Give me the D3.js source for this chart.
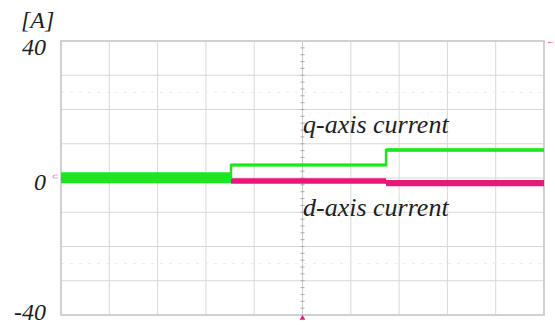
<!DOCTYPE html>
<html>
<head>
<meta charset="utf-8">
<script src="https://cdn.jsdelivr.net/npm/d3@7"></script>
<style>
  body { margin: 0; background: #fff; }
  svg text { font-family: "Liberation Serif", "Times New Roman", serif; font-style: italic; fill: #1e1e1e; }
</style>
</head>
<body>
<div id="chart"></div>
<script>
(function() {
    'use strict';

    // Time in divisions (10 div across), current in A
    var yTicks = [40, 0, -40];
    var yTickLabels = ['40', '0', '-40'];

    // q-axis current: segments [start, end, mean, ripple half-width]
    var qStart = [0, 3.52, 6.73];
    var qEnd = [3.52, 6.73, 10];
    var qMean = [0.1, 3.8, 8.2];
    var qRipple = [1.6, 0.45, 0.5];

    // d-axis current
    var dStart = [0, 3.52, 6.73];
    var dEnd = [3.52, 6.73, 10];
    var dMean = [-0.5, -0.9, -1.5];
    var dRipple = [0.8, 0.8, 0.9];

    var width = 555, height = 325;
    var left = 61, right = 544, top = 41, bottom = 315;

    var x = d3.scaleLinear().domain([0, 10]).range([left, right]);
    var y = d3.scaleLinear().domain([-40, 40]).range([bottom, top]);

    var svg = d3.select('#chart').append('svg')
        .attr('width', width).attr('height', height);

    // Grid
    var g = svg.append('g');
    g.selectAll('.vg').data(d3.range(1, 10)).join('line')
        .attr('x1', function(d) { return x(d); }).attr('x2', function(d) { return x(d); })
        .attr('y1', top).attr('y2', bottom)
        .attr('stroke', '#d8d8d8').attr('stroke-width', 1);
    g.selectAll('.hg').data(d3.range(-30, 40, 10)).join('line')
        .attr('x1', left).attr('x2', right)
        .attr('y1', function(d) { return y(d); }).attr('y2', function(d) { return y(d); })
        .attr('stroke', '#d8d8d8').attr('stroke-width', 1);

    // faint cursor lines
    [25, -25].forEach(function(v) {
        g.append('line')
            .attr('x1', left).attr('x2', right)
            .attr('y1', y(v)).attr('y2', y(v))
            .attr('stroke', '#ebebeb').attr('stroke-width', 1)
            .attr('stroke-dasharray', '3,6');
    });

    // centre axis with minor ticks
    g.append('line')
        .attr('x1', x(5)).attr('x2', x(5)).attr('y1', top).attr('y2', bottom)
        .attr('stroke', '#c8c8c8').attr('stroke-width', 1);
    g.selectAll('.mt').data(d3.range(-40, 40.1, 2)).join('line')
        .attr('x1', x(5) - 2).attr('x2', x(5) + 2)
        .attr('y1', function(d) { return y(d); }).attr('y2', function(d) { return y(d); })
        .attr('stroke', '#aaa').attr('stroke-width', 1);

    // border
    g.append('rect')
        .attr('x', left).attr('y', top)
        .attr('width', right - left).attr('height', bottom - top)
        .attr('fill', 'none').attr('stroke', '#d0d0d0').attr('stroke-width', 2);

    function band(starts, ends, means, ripples) {
        var pts = [];
        for (var i = 0; i < starts.length; i++) {
            pts.push({ t: starts[i], m: means[i], r: ripples[i] });
            pts.push({ t: ends[i], m: means[i], r: ripples[i] });
        }
        return d3.area()
            .x(function(d) { return x(d.t); })
            .y0(function(d) { return y(d.m - d.r); })
            .y1(function(d) { return y(d.m + d.r); })(pts);
    }

    function line(starts, ends, means) {
        var pts = [];
        for (var i = 0; i < starts.length; i++) {
            pts.push([starts[i], means[i]]);
            pts.push([ends[i], means[i]]);
        }
        return d3.line()
            .x(function(d) { return x(d[0]); })
            .y(function(d) { return y(d[1]); })(pts);
    }

    var pink = '#e8177a', green = '#1ee51e';

    svg.append('path').attr('d', band(dStart, dEnd, dMean, dRipple))
        .attr('fill', pink).attr('stroke', 'none');
    svg.append('path').attr('d', line(dStart, dEnd, dMean))
        .attr('fill', 'none').attr('stroke', pink).attr('stroke-width', 1.5);

    svg.append('path').attr('d', band(qStart, qEnd, qMean, qRipple))
        .attr('fill', green).attr('stroke', 'none');
    svg.append('path').attr('d', line(qStart, qEnd, qMean))
        .attr('fill', 'none').attr('stroke', green).attr('stroke-width', 2.5);

    // Markers
    svg.append('path')
        .attr('d', d3.symbol().type(d3.symbolTriangle).size(14)())
        .attr('transform', 'translate(' + x(5) + ',' + (bottom + 3) + ')')
        .attr('fill', pink);
    svg.append('text')
        .attr('x', left - 2).attr('y', y(0) + 1)
        .attr('text-anchor', 'end')
        .style('font-size', '8px').style('font-style', 'normal')
        .style('fill', '#c0508f')
        .text('⊂');
    svg.append('text')
        .attr('x', right + 2).attr('y', top + 3)
        .style('font-size', '9px').style('font-style', 'normal')
        .style('fill', '#e8407a')
        .text('←');

    // Y labels
    svg.selectAll('.yl').data(yTicks).join('text')
        .attr('x', 46)
        .attr('y', function(d) { return Math.max(55, Math.min(320, y(d) + 12)); })
        .attr('text-anchor', 'end')
        .style('font-size', '24px')
        .text(function(d, i) { return yTickLabels[i]; });

    svg.append('text')
        .attr('x', 21).attr('y', 28)
        .style('font-size', '24px')
        .text('[A]');

    svg.append('text')
        .attr('x', 303).attr('y', 133)
        .style('font-size', '26px')
        .text('q-axis current');
    svg.append('text')
        .attr('x', 303).attr('y', 216)
        .style('font-size', '26px')
        .text('d-axis current');
})();
</script>
</body>
</html>
